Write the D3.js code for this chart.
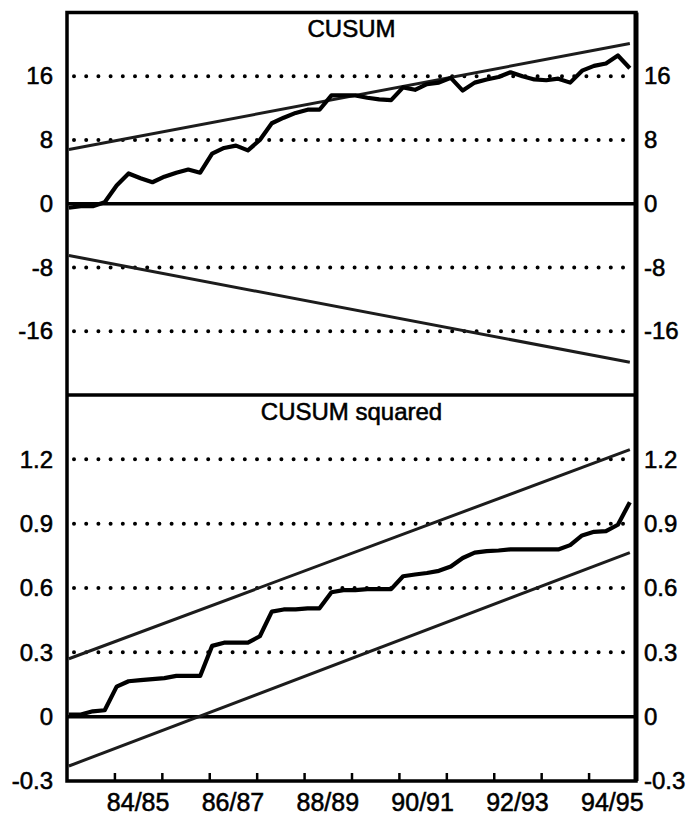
<!DOCTYPE html>
<html>
<head>
<meta charset="utf-8">
<script src="https://cdn.jsdelivr.net/npm/d3@7/dist/d3.min.js"></script>
<style>
  body { margin: 0; background: #fff; }
  svg { display: block; font-family: "Liberation Sans", Arial, Helvetica, sans-serif; }
  text { fill: #000; stroke: #000; stroke-width: 0.55px; }
</style>
</head>
<body>
<div id="chart"></div>
<script>
// Quarterly observations, Sep qtr 1983 to Jun qtr 1995 (fiscal years 83/84 .. 94/95)
var quarters = d3.range(48).map(function (i) {
  var fy = 83 + Math.floor(i / 4);
  return fy + "/" + (fy + 1) + " Q" + (i % 4 + 1);
});

// CUSUM of recursive residuals
var cusum = [-0.5, -0.3, -0.3, 0.2, 2.3, 3.8, 3.2, 2.7, 3.4, 3.9, 4.3, 3.9,
             6.3, 7.0, 7.3, 6.7, 8.0, 10.1, 10.8, 11.4, 11.8, 11.8, 13.6, 13.6,
             13.6, 13.3, 13.1, 13.0, 14.6, 14.3, 15.0, 15.2, 15.8, 14.2, 15.2, 15.6,
             15.9, 16.5, 16.0, 15.6, 15.5, 15.7, 15.2, 16.7, 17.3, 17.6, 18.6, 17.0];

// CUSUM of squares
var cusumSq = [0.01, 0.01, 0.025, 0.03, 0.14, 0.165, 0.17, 0.175, 0.18, 0.19, 0.19, 0.19,
               0.33, 0.345, 0.345, 0.345, 0.375, 0.49, 0.50, 0.50, 0.505, 0.505, 0.58, 0.59,
               0.59, 0.595, 0.595, 0.595, 0.655, 0.663, 0.67, 0.68, 0.70, 0.74, 0.765, 0.772,
               0.775, 0.78, 0.78, 0.78, 0.78, 0.78, 0.80, 0.845, 0.862, 0.865, 0.895, 1.0];

// 5% significance bounds: value at first and last observation
var cusumUpper = [6.8, 20.1];
var cusumLower = [-6.5, -19.9];
var sqUpper = [0.27, 1.245];
var sqLower = [-0.23, 0.765];

var topTicks = [16, 8, 0, -8, -16];
var bottomTicks = [1.2, 0.9, 0.6, 0.3, 0, -0.3];
var yearBreaks = [1, 2, 3, 4, 5, 6, 7, 8, 9, 10, 11];
var yearLabels = ["84/85", "86/87", "88/89", "90/91", "92/93", "94/95"];

var width = 697, height = 818;
var frame = { left: 67, right: 636, top: 12.5, mid: 395, bottom: 781 };

var svg = d3.select("#chart").append("svg")
  .attr("width", width)
  .attr("height", height);

// years since start of 83/84
var xYear = d3.scaleLinear().domain([0, 12]).range([frame.left, frame.right]);
var xQ = d3.scalePoint().domain(quarters).range([xYear(0.04), xYear(11.87)]);

var yTop = d3.scaleLinear().domain([-24, 24]).range([frame.mid, frame.top]);
var yBot = d3.scaleLinear().domain([-0.3, 1.5]).range([frame.bottom, frame.mid]);

// plain hyphen for negatives, as in the original
var fmtTop = function (d) { return String(d); };
var fmtBot = function (d) { return d === 0 ? "0" : d.toFixed(1); };

function panel(yScale, ticks, fmt) {
  // dotted reference lines
  svg.append("g").selectAll("line")
    .data(ticks.filter(function (d) { return d !== 0 && d > yScale.domain()[0]; }))
    .enter().append("line")
    .attr("x1", frame.left + 7)
    .attr("x2", frame.right - 2)
    .attr("y1", function (d) { return yScale(d); })
    .attr("y2", function (d) { return yScale(d); })
    .attr("stroke", "#000")
    .attr("stroke-width", 4)
    .attr("stroke-linecap", "round")
    .attr("stroke-dasharray", "0,12.2");

  // zero line
  svg.append("line")
    .attr("x1", frame.left).attr("x2", frame.right)
    .attr("y1", yScale(0)).attr("y2", yScale(0))
    .attr("stroke", "#000").attr("stroke-width", 3.5);

  // axis labels on both sides
  var axL = d3.axisLeft(yScale).tickValues(ticks).tickFormat(fmt).tickSize(0).tickPadding(14);
  var axR = d3.axisRight(yScale).tickValues(ticks).tickFormat(fmt).tickSize(0).tickPadding(8);
  [[axL, frame.left], [axR, frame.right]].forEach(function (p) {
    var g = svg.append("g").attr("transform", "translate(" + p[1] + ",0)").call(p[0]);
    g.select(".domain").remove();
    g.selectAll("text").attr("font-size", 24).attr("font-family", "Liberation Sans, Arial, sans-serif");
  });
}

panel(yTop, topTicks, fmtTop);
panel(yBot, bottomTicks, fmtBot);

function boundLine(yScale, ends) {
  var first = quarters[0], last = quarters[quarters.length - 1];
  svg.append("path")
    .datum([[first, ends[0]], [last, ends[1]]])
    .attr("d", d3.line().x(function (d) { return xQ(d[0]); }).y(function (d) { return yScale(d[1]); }))
    .attr("fill", "none")
    .attr("stroke", "#1c1c1c")
    .attr("stroke-width", 3);
}

function seriesLine(yScale, values) {
  svg.append("path")
    .datum(values)
    .attr("d", d3.line().x(function (d, i) { return xQ(quarters[i]); }).y(function (d) { return yScale(d); }))
    .attr("fill", "none")
    .attr("stroke", "#000")
    .attr("stroke-width", 4.2)
    .attr("stroke-linejoin", "round");
}

boundLine(yTop, cusumUpper);
boundLine(yTop, cusumLower);
seriesLine(yTop, cusum);

boundLine(yBot, sqUpper);
boundLine(yBot, sqLower);
seriesLine(yBot, cusumSq);

// frame and panel divider
svg.append("rect")
  .attr("x", frame.left).attr("y", frame.top)
  .attr("width", frame.right - frame.left).attr("height", frame.bottom - frame.top)
  .attr("fill", "none").attr("stroke", "#000").attr("stroke-width", 3.5);
svg.append("line")
  .attr("x1", frame.right).attr("x2", frame.right)
  .attr("y1", frame.top).attr("y2", frame.bottom)
  .attr("stroke", "#000").attr("stroke-width", 5);
svg.append("line")
  .attr("x1", frame.left).attr("x2", frame.right)
  .attr("y1", frame.mid).attr("y2", frame.mid)
  .attr("stroke", "#000").attr("stroke-width", 3.5);

// x axis: fiscal-year breaks as inward ticks, labels centred in the year
var xAxis = d3.axisBottom(xYear).tickValues(yearBreaks).tickFormat("").tickSize(-8).tickSizeOuter(0);
var gx = svg.append("g").attr("transform", "translate(0," + frame.bottom + ")").call(xAxis);
gx.select(".domain").remove();
gx.selectAll("line").attr("stroke", "#000").attr("stroke-width", 2.5);

svg.append("g").selectAll("text")
  .data(yearLabels)
  .enter().append("text")
  .attr("x", function (d) { return xYear(+d.slice(0, 2) - 83 + 0.5); })
  .attr("y", frame.bottom + 30)
  .attr("text-anchor", "middle")
  .attr("font-size", 25)
  .text(function (d) { return d; });

// panel titles
svg.append("text")
  .attr("x", (frame.left + frame.right) / 2).attr("y", 37)
  .attr("text-anchor", "middle").attr("font-size", 24)
  .text("CUSUM");
svg.append("text")
  .attr("x", (frame.left + frame.right) / 2).attr("y", 420)
  .attr("text-anchor", "middle").attr("font-size", 24)
  .text("CUSUM squared");
</script>
</body>
</html>
